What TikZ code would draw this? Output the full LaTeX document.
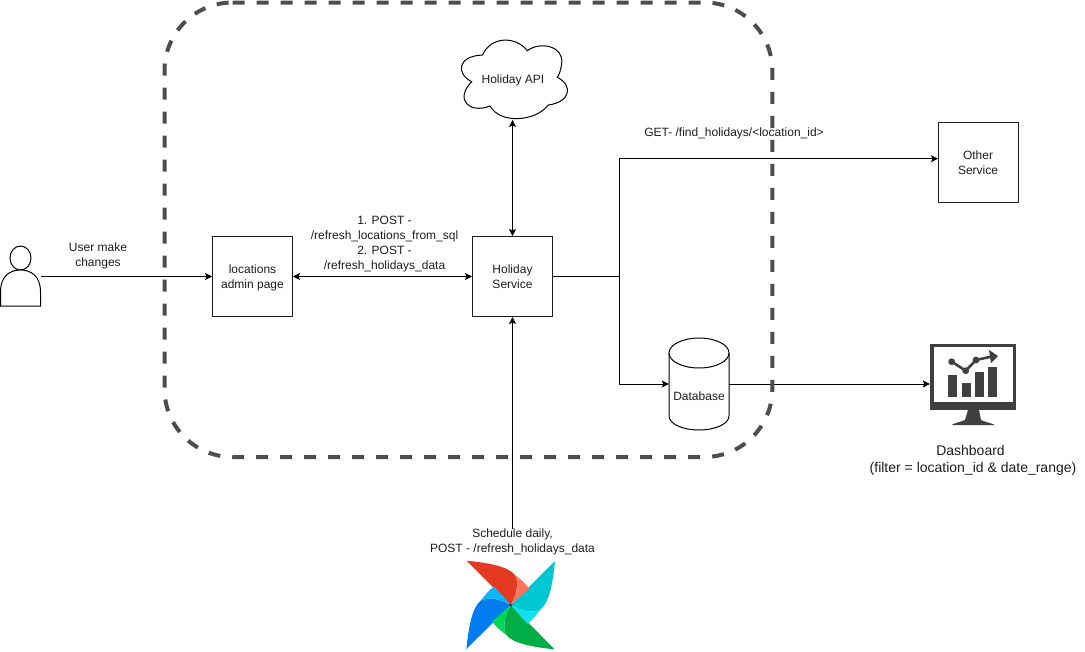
\documentclass[tikz,border=0pt]{standalone}
\usepackage{fontspec}
\setmainfont{Liberation Sans}
\usepackage{xcolor}
\definecolor{textcolor}{RGB}{30,30,30}
\definecolor{dashcolor}{RGB}{77,77,77}
\definecolor{screencolor}{RGB}{64,64,64}
\usetikzlibrary{arrows.meta,calc}
\tikzset{
  flowarrow/.style={line width=1pt, -{Stealth[length=7pt,width=7pt,inset=1.5pt]}},
  flowboth/.style={line width=1pt, {Stealth[length=7pt,width=7pt,inset=1.5pt]}-{Stealth[length=7pt,width=7pt,inset=1.5pt]}},
  flowline/.style={line width=1pt},
  boxnode/.style={draw, line width=1pt, fill=white, minimum width=80pt, minimum height=80pt, inner sep=0pt}
}

\begin{document}
\begin{tikzpicture}[x=1pt, y=-1pt, every node/.style={color=textcolor, font=\fontsize{12}{15}\selectfont, align=center, execute at begin node=\rule{0pt}{14.5pt}, execute at end node=\rule[-4.5pt]{0pt}{4.5pt}}]
  \useasboundingbox[fill=white] (0,0) rectangle (1085,651);

  \node[boxnode] (admin) at (252.5,276.5) {};
  \node (admintext) at (252.5,278.5) {locations\\admin page};
  \node[boxnode] (holiday) at (512.5,276.5) {};
  \node (holidaytext) at (512.5,278.5) {Holiday\\Service};
  \node[boxnode] (other) at (978,162) {};
  \node (othertext) at (978,165) {Other\\Service};

  \draw[line width=1pt, fill=white] (471.7,81.7)
    .. controls (456,74) and (457,56) .. (482.7,55)
    .. controls (490,37) and (515,35) .. (527.3,50.7)
    .. controls (540,41) and (564,46) .. (561.7,63.3)
    .. controls (561,70) and (559,75) .. (557.3,77.3)
    .. controls (573,85) and (571,102) .. (548.3,105)
    .. controls (535,122) and (500,124) .. (490,106)
    .. controls (470,114) and (454,100) .. (471.7,81.7) -- cycle;
  \node[minimum width=108pt, minimum height=80pt, inner sep=0pt] (api) at (513,78) {Holiday API};

  \draw[line width=1pt, fill=white] (669,353) -- (669,416) arc[start angle=180, end angle=0, x radius=30, y radius=14] -- (729,353);
  \draw[line width=1pt, fill=white] (699,353) ellipse[x radius=30, y radius=15];
  \node[minimum width=60pt, minimum height=92pt, inner sep=0pt] (db) at (699,384) {};
  \node (dbtext) at (699,395.5) {Database};

  \draw[line width=1pt, fill=white] (20.5,258) ellipse[x radius=10.5, y radius=12];
  \draw[line width=1pt, fill=white] (0.5,306) -- (0.5,292) .. controls (0.5,276) and (10,270) .. (20.5,270) .. controls (31,270) and (40.5,276) .. (40.5,292) -- (40.5,306) -- cycle;
  \node[minimum width=41pt, minimum height=60pt, inner sep=0pt] (user) at (20.5,276) {};

  \fill[screencolor] (930,344) rectangle (1016,410);
  \fill[white] (933.5,347) rectangle (1012.5,402);
  \fill[screencolor] (968,410) -- (965,420) .. controls (960,422) and (955,423) .. (951.5,425) -- (995,425) .. controls (991,423) and (985,422) .. (981,420) -- (979,410) -- cycle;
  \fill[screencolor] (948,375) rectangle (956.7,396.7);
  \fill[screencolor] (961.7,383.3) rectangle (970.7,396.7);
  \fill[screencolor] (975,372.3) rectangle (984,396.7);
  \fill[screencolor] (988.3,366.7) rectangle (997.3,396.7);
  \draw[screencolor, line width=2.6pt] (951.7,361.7) -- (965.7,370.7) -- (976,360) -- (992,356.5);
  \fill[screencolor] (951.7,361.7) circle[radius=3.4];
  \fill[screencolor] (965.7,370.7) circle[radius=3.4];
  \fill[screencolor] (976,360) circle[radius=3.4];
  \fill[screencolor] (989,350) -- (998,356) -- (991,363) -- cycle;
  \node[minimum width=86pt, minimum height=66pt, inner sep=0pt] (dash) at (973,377) {};
  \node[font=\fontsize{14}{17}\selectfont] (dashtext) at (973,461.5) {Dashboard\kern5pt\\(filter = location\_id \& date\_range)};

  \foreach \ang/\bladecolor in {0/E43921, -90/00C7D4, -180/00AD46, -270/017CEE} {
    \definecolor{bladedark}{HTML}{\bladecolor}
    \fill[bladedark, shift={(510.7,605)}, rotate=\ang] (-44,-44.3) .. controls (-20,-42) and (-2,-38) .. (4.3,-30) .. controls (8,-24) and (7,-12) .. (0,0) -- cycle;
  }
  \foreach \ang/\glowcolor in {0/FF7557, -90/11E1EE, -180/04D659, -270/0CB6FF} {
    \definecolor{bladelight}{HTML}{\glowcolor}
    \fill[bladelight, shift={(510.7,605)}, rotate=\ang] (4.3,-30) .. controls (10,-26) and (15,-21) .. (18.7,-16.7) -- (0,0) .. controls (7,-12) and (8,-24) .. (4.3,-30) -- cycle;
  }
  \fill[screencolor] (510.7,605) circle[radius=1.8];
  \node[minimum width=90pt, minimum height=90pt, inner sep=0pt] (airflow) at (510.7,605) {};

  \node[fill=white, inner sep=0pt] (schedtext) at (512.5,543) {Schedule daily,\\POST - /refresh\_holidays\_data};
  \node (usertext) at (98,256.5) {User make\\changes};
  \node (posttext) at (384.5,245) {1. POST -\\/refresh\_locations\_from\_sql\\2. POST -\\/refresh\_holidays\_data};
  \node (gettext) at (734,131.5) {GET- /find\_holidays/<location\_id>};

  \coordinate (branch) at (619.5,276.5);
  \coordinate (otherin) at (938,158.7);
  \coordinate (apiin) at (512.5,120);
  \draw[flowarrow] (user.east |- admin.west) -- (admin.west);
  \draw[flowboth] (admin.east) -- (holiday.west);
  \draw[flowboth] (holiday.north) -- (apiin);
  \draw[flowline] (holiday.east) -- (branch);
  \draw[flowarrow] (branch) |- (otherin);
  \draw[flowarrow] (branch) |- (db.west);
  \draw[flowarrow] (db.east) -- (db.east -| dash.west);
  \draw[flowarrow] (schedtext.north -| holiday.south) -- (holiday.south);

  \draw[dashcolor, line width=4pt, dash pattern=on 12pt off 12pt] (232.5,2.5) -- (704.3,2.5) arc[start angle=270, end angle=360, radius=68] -- (772.3,389) arc[start angle=0, end angle=90, radius=68] -- (232.5,457) arc[start angle=90, end angle=180, radius=68] -- (164.5,70.5) arc[start angle=180, end angle=270, radius=68] -- cycle;
\end{tikzpicture}
\end{document}
